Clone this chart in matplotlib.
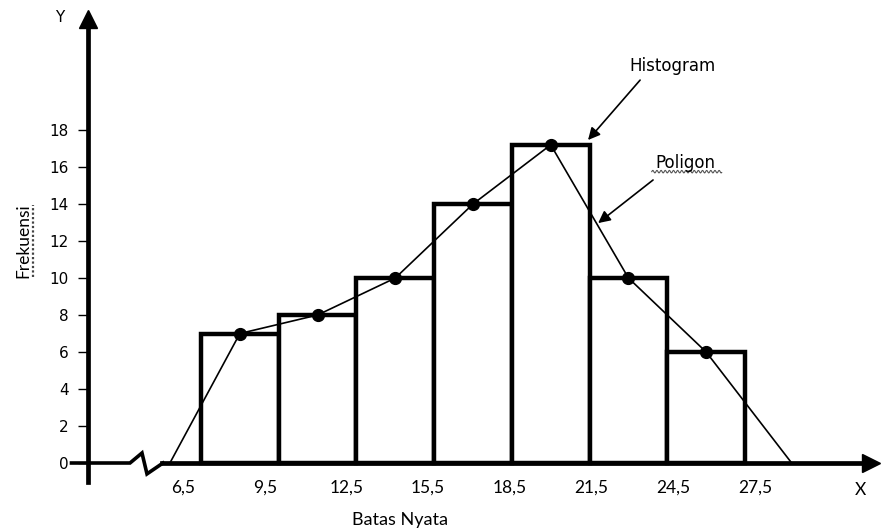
import numpy as np
import matplotlib
matplotlib.use("Agg")
import matplotlib.pyplot as plt

# ---- data ----
class_edges = [6.5, 9.5, 12.5, 15.5, 18.5, 21.5, 24.5, 27.5]
edge_labels = ["6,5", "9,5", "12,5", "15,5", "18,5", "21,5", "24,5", "27,5"]
bar_left = [6.5, 9.5, 12.5, 15.5, 18.5, 21.5, 24.5]
frequencies = [7, 8, 10, 14, 17.2, 10, 6]
midpoints = [8, 11, 14, 17, 20, 23, 26]
polygon_x = [5.3, 8, 11, 14, 17, 20, 23, 26, 29.3]
polygon_y = [0, 7, 8, 10, 14, 17.2, 10, 6, 0]
y_ticks = [0, 2, 4, 6, 8, 10, 12, 14, 16, 18]

# ---- figure ----
fig = plt.figure(figsize=(8.84, 5.29), dpi=100)
ax = fig.add_axes([0, 0, 1, 1])
ax.set_xlim(-1.259, 32.865)
ax.set_ylim(-3.568, 25.03)
for s in ["top", "right", "bottom"]:
    ax.spines[s].set_visible(False)
ax.spines["bottom"].set_position(("data", 0))

# y axis through x = 2.14
yaxis_x = 2.14
ax.spines["left"].set_position(("data", yaxis_x))
ax.spines["left"].set_bounds(-1.05, 24.0)
ax.spines["left"].set_linewidth(3.4)
ax.set_yticks(y_ticks)
ax.set_yticklabels([str(v) for v in y_ticks], fontfamily="DejaVu Sans", fontsize=11)
ax.tick_params(axis="y", direction="out", length=7, width=1, pad=7)
ax.plot([yaxis_x], [24.0], marker="^", ms=13, color="k", clip_on=False, zorder=6)

# x axis with break
ax.plot([1.5, 3.759, 4.222, 4.415, 5.033], [0, 0, 0.54, -0.59, 0],
        color="k", lw=2.6, solid_joinstyle="miter", zorder=5)
ax.plot([5.0, 32.2], [0, 0], color="k", lw=3.4, zorder=5)
ax.plot([32.35], [0], marker=">", ms=13, color="k", clip_on=False, zorder=6)

label_shift = (-18 + 4 * np.arange(len(class_edges))) / 25.905
ax.set_xticks(np.array(class_edges) + label_shift)
ax.set_xticklabels(edge_labels, fontfamily="Lato", fontsize=12.5)
ax.tick_params(axis="x", length=0, pad=12)

# histogram
ax.bar(bar_left, frequencies, width=3, align="edge", facecolor="white",
       edgecolor="black", linewidth=3.2, zorder=2)

# polygon
ax.plot(polygon_x, polygon_y, color="k", lw=1.2, zorder=3)
ax.plot(midpoints, frequencies, "o", ms=8.5, color="k", zorder=4)

# texts
ax.text(1.06, 24.1, "Y", fontsize=11, fontfamily="DejaVu Sans", ha="center", va="center")
ax.text(31.94, -1.46, "X", fontsize=12.5, fontfamily="Lato", ha="center", va="center")
ax.text(14.2, -3.08, "Batas Nyata", fontsize=13, fontfamily="Lato", ha="center", va="center")
ax.text(-0.37, 12.0, "Frekuensi", fontsize=12.5, fontfamily="Lato", rotation=90,
        ha="center", va="center")
ax.plot([0.02, 0.02], [10.05, 13.95], color="#444444", lw=1.6, ls=(0, (1, 1)), zorder=3)

ax.text(24.72, 21.46, "Histogram", fontsize=12, fontfamily="DejaVu Sans", ha="center", va="center")
ax.text(25.18, 16.22, "Poligon", fontsize=12, fontfamily="DejaVu Sans", ha="center", va="center")
wx = np.linspace(23.9, 26.6, 120)
ax.plot(wx, 15.75 + 0.07 * np.sin((wx - 23.9) * 2 * np.pi / 0.16), color="#555555", lw=0.8)

arrow_kw = dict(arrowstyle="-|>,head_length=0.6,head_width=0.3", color="k", lw=1.2,
                mutation_scale=12, shrinkA=0, shrinkB=0)
ax.annotate("", xy=(21.44, 17.46), xytext=(23.45, 20.70), arrowprops=arrow_kw)
ax.annotate("", xy=(21.83, 12.97), xytext=(23.95, 15.30), arrowprops=arrow_kw)

fig.savefig("out.png", dpi=100)
